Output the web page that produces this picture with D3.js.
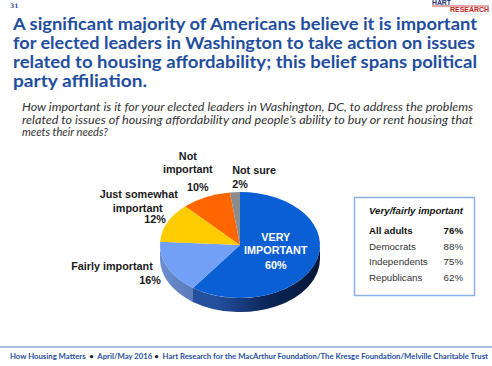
<!DOCTYPE html>
<html>
<head>
<meta charset="utf-8">
<script src="https://cdn.jsdelivr.net/npm/d3@7"></script>
<style>
  body { margin: 0; background: #fff; }
  svg { display: block; }
</style>
</head>
<body>
<div id="chart"></div>
<script>
// slide values
var categories = ["VERY IMPORTANT", "Fairly important", "Just somewhat important", "Not important", "Not sure"];
var values = [60, 16, 12, 10, 2];
var topColors = ["#0b5fd5", "#72a0f6", "#ffcc00", "#ff6600", "#8c8c8c"];
var sideColors = [["#24509e", "#0a2558", "#051838"], ["#6d8fd0", "#5675b4"], ["#d9ad00"], ["#d95500"], ["#6f6f6f"]];
var tableRows = ["All adults", "Democrats", "Independents", "Republicans"];
var tableValues = [76, 88, 75, 62];

var titleLines = [
  "A significant majority of Americans believe it is important",
  "for elected leaders in Washington to take action on issues",
  "related to housing affordability; this belief spans political",
  "party affiliation."
];
var titleWidths = [464, 462, 464, 134];
var questionLines = [
  "How important is it for your elected leaders in Washington, DC, to address the problems",
  "related to issues of housing affordability and people\u2019s ability to buy or rent housing that",
  "meets their needs?"
];
var questionWidths = [451, 451, null];

// label lines per slice: text, offset from label anchor, alignment
var labelLines = [
  [{t: "VERY", dx: 0, dy: -12, a: "middle"}, {t: "IMPORTANT", dx: 0, dy: 1, a: "middle"}, {t: "60%", dx: 0, dy: 16, a: "middle"}],
  [{t: "Fairly important", dx: -4, dy: -1, a: "end"}, {t: "16%", dx: 4, dy: 13, a: "end"}],
  [{t: "Just somewhat", dx: -18, dy: -21, a: "middle"}, {t: "important", dx: -19, dy: -7, a: "middle"}, {t: "12%", dx: 9, dy: 4, a: "end"}],
  [{t: "Not", dx: -13, dy: -30, a: "middle"}, {t: "important", dx: -13, dy: -17, a: "middle"}, {t: "10%", dx: -3, dy: 1, a: "middle"}],
  [{t: "Not sure", dx: -2, dy: -10, a: "start"}, {t: "2%", dx: -2, dy: 4, a: "start"}]
];
var labelRadius = [0.47, 1.15, 1.15, 1.15, 1.15];

var W = 492, H = 366;
var blue = "#1f4e9e";

var svg = d3.select("#chart").append("svg")
  .attr("width", W).attr("height", H);

// page number + logo
svg.append("text").attr("x", 10).attr("y", 8)
  .attr("font-family", "DejaVu Serif").attr("font-weight", "bold")
  .attr("font-size", 6).attr("fill", blue).text("31");
var logo = svg.append("g");
logo.append("text").attr("x", 432).attr("y", 5)
  .attr("font-family", "Liberation Sans").attr("font-weight", "bold")
  .attr("font-size", 7).attr("fill", "#1c2f78")
  .attr("textLength", 19).attr("lengthAdjust", "spacingAndGlyphs").text("HART");
logo.append("line").attr("x1", 432).attr("x2", 489).attr("y1", 6).attr("y2", 6)
  .attr("stroke", "#c02020").attr("stroke-width", 0.8);
logo.append("text").attr("x", 450).attr("y", 12)
  .attr("font-family", "Liberation Sans").attr("font-weight", "bold")
  .attr("font-size", 6.5).attr("fill", "#c02020")
  .attr("textLength", 39).attr("lengthAdjust", "spacingAndGlyphs").text("RESEARCH");
logo.append("line").attr("x1", 450).attr("x2", 489).attr("y1", 14).attr("y2", 14)
  .attr("stroke", "#9aa6c8").attr("stroke-width", 0.6).attr("stroke-dasharray", "1,1.5");

// title
svg.append("g").selectAll("text").data(titleLines).join("text")
  .attr("x", 13)
  .attr("y", (d, i) => 29.5 + i * 19.3)
  .attr("font-family", "Lato, 'Open Sans', sans-serif")
  .attr("font-weight", "bold")
  .attr("font-size", 17.5)
  .attr("fill", blue)
  .attr("textLength", (d, i) => titleWidths[i])
  .attr("lengthAdjust", "spacingAndGlyphs")
  .text(d => d);

// question
svg.append("g").selectAll("text").data(questionLines).join("text")
  .attr("x", 22)
  .attr("y", (d, i) => 111 + i * 12.7)
  .attr("font-family", "Lato, 'Open Sans', sans-serif")
  .attr("font-style", "italic")
  .attr("font-size", 11.2)
  .attr("fill", "#333")
  .each(function (d, i) {
    if (questionWidths[i]) {
      d3.select(this).attr("textLength", questionWidths[i]).attr("lengthAdjust", "spacingAndGlyphs");
    }
  })
  .text(d => d);

// 3D pie
var cx = 240, cy = 245, rx = 80, ry = 53, depth = 14;
var pie = d3.pie().sort(null).value(d => d);
var arcs = pie(values);

const proj = (a, k = 1, dz = 0) => [cx + rx * k * Math.sin(a), cy - ry * k * Math.cos(a) + dz];

var defs = svg.append("defs");
sideColors.forEach((cols, i) => {
  var g = defs.append("linearGradient").attr("id", "side" + i)
    .attr("gradientUnits", "userSpaceOnUse")
    .attr("x1", cx - rx).attr("x2", cx + rx).attr("y1", 0).attr("y2", 0);
  if (cols.length == 1) cols = [cols[0], cols[0]];
  var start = i == 0 ? 0.35 : 0;
  var end = i == 0 ? 1 : 0.25;
  cols.forEach((c, j) => {
    g.append("stop").attr("offset", start + (end - start) * j / (cols.length - 1)).attr("stop-color", c);
  });
});

var pieG = svg.append("g");

// side walls (front half only)
arcs.forEach((d, i) => {
  var b1 = Math.max(d.startAngle, Math.PI / 2);
  var b2 = Math.min(d.endAngle, 3 * Math.PI / 2);
  if (b2 <= b1) return;
  var p1 = proj(b1), p2 = proj(b2);
  var q1 = proj(b1, 1, depth), q2 = proj(b2, 1, depth);
  var path = `M${p1}A${rx},${ry} 0 0 1 ${p2}L${q2}A${rx},${ry} 0 0 0 ${q1}Z`;
  pieG.append("path").attr("d", path).attr("fill", `url(#side${i})`);
});

// top faces
arcs.forEach((d, i) => {
  var p1 = proj(d.startAngle), p2 = proj(d.endAngle);
  var large = d.endAngle - d.startAngle > Math.PI ? 1 : 0;
  pieG.append("path")
    .attr("d", `M${cx},${cy}L${p1}A${rx},${ry} 0 ${large} 1 ${p2}Z`)
    .attr("fill", topColors[i]);
});

// slice labels
arcs.forEach((d, i) => {
  var mid = (d.startAngle + d.endAngle) / 2;
  var anchor = proj(mid, labelRadius[i]);
  labelLines[i].forEach(l => {
    pieG.append("text")
      .attr("x", anchor[0] + l.dx)
      .attr("y", anchor[1] + l.dy)
      .attr("text-anchor", l.a)
      .attr("font-family", "Liberation Sans, Arial, sans-serif")
      .attr("font-weight", "bold")
      .attr("font-size", 10.8)
      .attr("fill", i == 0 ? "#fff" : "#1a1a1a")
      .text(l.t);
  });
});

// party table
var box = svg.append("g");
box.append("rect").attr("x", 354.5).attr("y", 197.5).attr("width", 120).attr("height", 98)
  .attr("fill", "#fff").attr("stroke", "#8db0e8").attr("stroke-width", 1.5);
box.append("text").attr("x", 369).attr("y", 214)
  .attr("font-family", "Liberation Sans, Arial, sans-serif")
  .attr("font-weight", "bold").attr("font-style", "italic")
  .attr("font-size", 9.7).attr("fill", "#111").text("Very/fairly important");
var ty = d3.scalePoint().domain(tableRows).range([234, 281]);
tableRows.forEach((r, i) => {
  var fw = i == 0 ? "bold" : "normal";
  box.append("text").attr("x", 369).attr("y", ty(r))
    .attr("font-family", "Liberation Sans, Arial, sans-serif")
    .attr("font-weight", fw).attr("font-size", 9.7).attr("fill", i == 0 ? "#111" : "#333")
    .text(r);
  box.append("text").attr("x", 463).attr("y", ty(r)).attr("text-anchor", "end")
    .attr("font-family", "Liberation Sans, Arial, sans-serif")
    .attr("font-weight", fw).attr("font-size", 9.7).attr("fill", i == 0 ? "#111" : "#333")
    .text(tableValues[i] + "%");
});

// footer
svg.append("line").attr("x1", 0).attr("x2", W).attr("y1", 347).attr("y2", 347)
  .attr("stroke", "#8fa8d8").attr("stroke-width", 1.5);
var foot = svg.append("text").attr("x", 10).attr("y", 358.5)
  .style("white-space", "pre")
  .attr("font-family", "Lato, 'Open Sans', sans-serif")
  .attr("font-weight", "bold").attr("font-size", 7.8).attr("fill", blue)
  .attr("textLength", 478).attr("lengthAdjust", "spacingAndGlyphs");
foot.append("tspan").text("How Housing Matters  ");
foot.append("tspan").attr("fill", "#223").text("\u2022");
foot.append("tspan").text("  April/May 2016 ");
foot.append("tspan").attr("fill", "#223").text("\u2022");
foot.append("tspan").text("  Hart Research for the MacArthur Foundation/The Kresge Foundation/Melville Charitable Trust");
</script>
</body>
</html>
